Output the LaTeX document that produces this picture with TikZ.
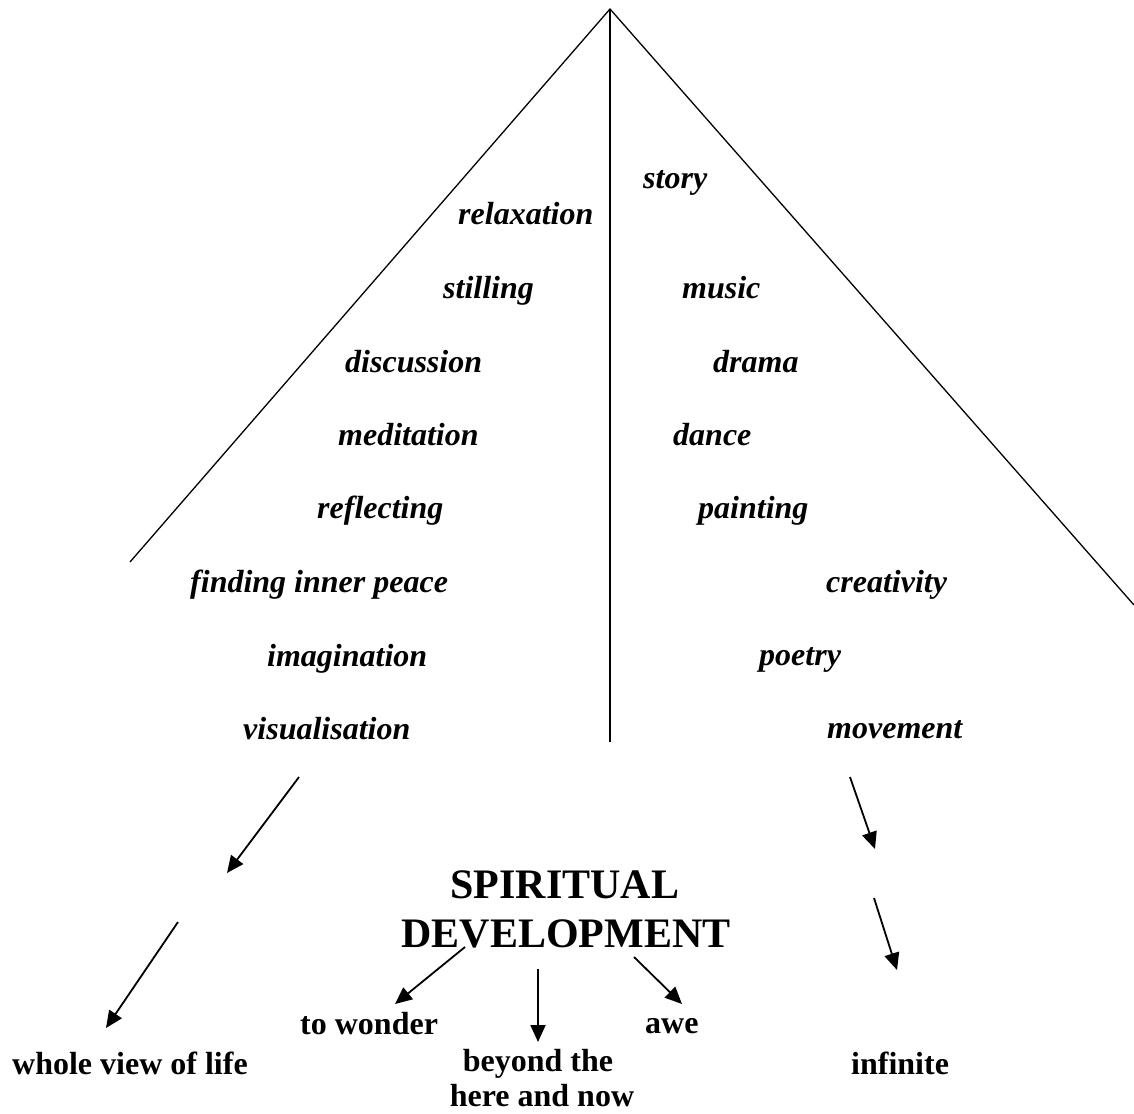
\documentclass[tikz,border=0pt]{standalone}
\usepackage{fontspec}
\setmainfont{Liberation Serif}
\usetikzlibrary{arrows.meta}
\begin{document}
\begin{tikzpicture}[x=1pt,y=-1pt,
  lbl/.style={font=\fontsize{32}{36}\selectfont\bfseries\itshape, inner sep=0pt, anchor=base west},
  blbl/.style={font=\fontsize{32}{37}\selectfont\bfseries, inner sep=0pt, anchor=base west},
  clbl/.style={font=\fontsize{32}{37}\selectfont\bfseries, inner sep=0pt, anchor=base},
  ttl/.style={font=\fontsize{42}{49}\selectfont\bfseries, inner sep=0pt, anchor=base},
  edgeline/.style={line width=1.3pt},
  arr/.style={line width=1.8pt, -{Triangle[length=17pt,width=15pt]}}]
\useasboundingbox (0,0) rectangle (1134,1113);

% frame lines
\coordinate (apex) at (610,9);
\coordinate (lend) at (130,562);
\coordinate (rend) at (1134,605);
\coordinate (vend) at (610,742);
\draw[edgeline] (lend) -- (apex) -- (rend);
\draw[edgeline] (apex) -- (vend);

% left labels
\node[lbl] (relax) at (458,224) {relaxation};
\node[lbl] (still) at (443,298) {stilling};
\node[lbl] (disc) at (345,372) {discussion};
\node[lbl] (medit) at (338,445) {meditation};
\node[lbl] (refl) at (317,518) {reflecting};
\node[lbl] (peace) at (190,592) {finding inner peace};
\node[lbl] (imag) at (267,666) {imagination};
\node[lbl] (visu) at (243,739) {visualisation};

% right labels
\node[lbl] (story) at (643,188) {story};
\node[lbl] (music) at (682,298) {music};
\node[lbl] (drama) at (713,372) {drama};
\node[lbl] (dance) at (673,445) {dance};
\node[lbl] (paint) at (698,518) {painting};
\node[lbl] (creat) at (826,592) {creativity};
\node[lbl] (poetry) at (759,665) {poetry};
\node[lbl] (move) at (827,738) {movement};

% title
\node[ttl] (title1) at (565,898) {SPIRITUAL};
\node[ttl] (title2) at (566,947) {DEVELOPMENT};

% bottom labels
\node[blbl] (wonder) at (300,1034) {to wonder};
\node[blbl] (awe) at (645,1033) {awe};
\node[clbl] (beyond) at (538,1071) {beyond the};
\node[clbl] (here) at (542,1106) {here and now};
\node[blbl] (whole) at (12,1074) {whole view of life};
\node[blbl] (infin) at (851,1074) {infinite};

% arrow end points
\coordinate (l1s) at (299,777);
\coordinate (l1e) at (227,873);
\coordinate (l2s) at (178,922);
\coordinate (l2e) at (106,1028);
\coordinate (m1s) at (465,947);
\coordinate (m1e) at (395,1004);
\coordinate (m2s) at (538,969);
\coordinate (m2e) at (538,1042);
\coordinate (m3s) at (634,957);
\coordinate (m3e) at (682,1004);
\coordinate (r1s) at (850,777);
\coordinate (r1e) at (875,849);
\coordinate (r2s) at (874,898);
\coordinate (r2e) at (897,970);

\draw[arr] (l1s) -- (l1e);
\draw[arr] (l2s) -- (l2e);
\draw[arr] (m1s) -- (m1e);
\draw[arr] (m2s) -- (m2e);
\draw[arr] (m3s) -- (m3e);
\draw[arr] (r1s) -- (r1e);
\draw[arr] (r2s) -- (r2e);
\end{tikzpicture}
\end{document}
